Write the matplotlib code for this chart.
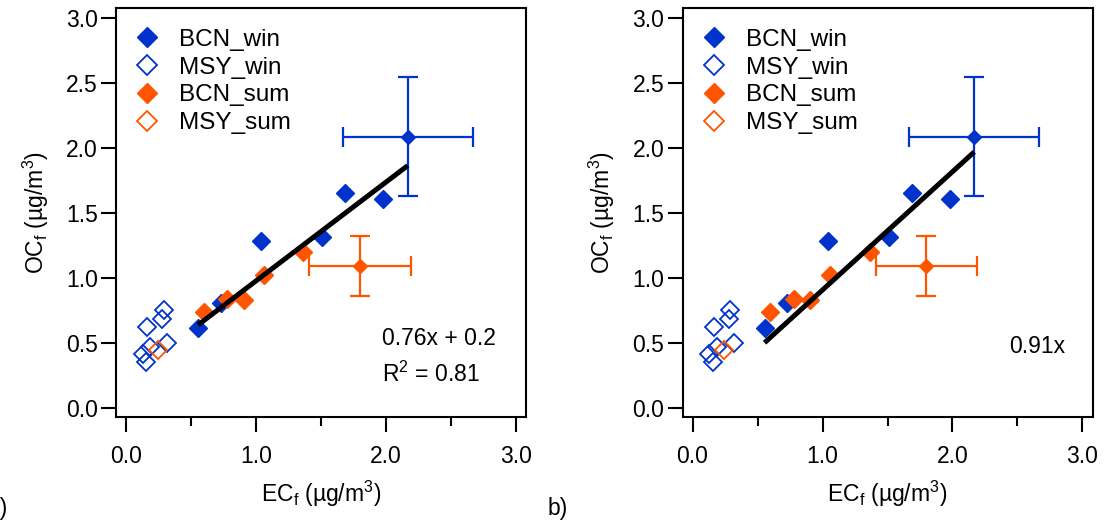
import numpy as np
import matplotlib
matplotlib.use('Agg')
import matplotlib.pyplot as plt
from matplotlib.ticker import MultipleLocator, FormatStrFormatter

plt.rcParams['font.family'] = ['Liberation Sans', 'DejaVu Sans']
plt.rcParams['mathtext.fontset'] = 'custom'
plt.rcParams['mathtext.rm'] = 'Liberation Sans'
plt.rcParams['mathtext.it'] = 'Liberation Sans:italic'
FS = 16.5

BLUE = '#0033cc'
ORANGE = '#ff5500'

# OC_f vs EC_f, individual samples (ug/m3)
bcn_win_ec = [0.554, 0.73, 1.04, 1.51, 1.685, 1.98]
bcn_win_oc = [0.62, 0.81, 1.287, 1.315, 1.654, 1.61]
msy_win_ec = [0.162, 0.29, 0.277, 0.316, 0.187, 0.13, 0.156]
msy_win_oc = [0.623, 0.756, 0.687, 0.50, 0.469, 0.418, 0.359]
bcn_sum_ec = [0.597, 0.777, 0.905, 1.058, 1.362]
bcn_sum_oc = [0.743, 0.843, 0.833, 1.022, 1.20]
msy_sum_ec = [0.245]
msy_sum_oc = [0.445]

# campaign means with standard deviations
mean_win = (2.167, 2.09)
sd_win = (0.50, 0.455)
mean_sum = (1.80, 1.095)
sd_sum = (0.39, 0.23)

# fits: a) OLS with intercept, b) forced through zero
fit_a = (0.76, 0.22)
r2_a = 0.81
fit_b = (0.91, 0.0)

fig = plt.figure(figsize=(11.06, 5.25), dpi=100)
W, H = 1106, 525
ax_a = fig.add_axes([116 / W, 1 - 417 / H, 410 / W, 408.7 / H])
ax_b = fig.add_axes([682.5 / W, 1 - 417 / H, 410 / W, 408.7 / H])


def draw_panel(ax, fit):
    ax.plot(bcn_win_ec, bcn_win_oc, 'D', ms=8.8, color=BLUE, mec=BLUE, label='BCN_win', zorder=3)
    ax.plot(msy_win_ec, msy_win_oc, 'D', ms=8.8, mfc='none', mec=BLUE, mew=1.3, label='MSY_win', zorder=3)
    ax.plot(bcn_sum_ec, bcn_sum_oc, 'D', ms=8.8, color=ORANGE, mec=ORANGE, label='BCN_sum', zorder=3)
    ax.plot(msy_sum_ec, msy_sum_oc, 'D', ms=8.8, mfc='none', mec=ORANGE, mew=1.3, label='MSY_sum', zorder=3)

    ax.errorbar(mean_win[0], mean_win[1], xerr=sd_win[0], yerr=sd_win[1], fmt='D', ms=7.5,
                color=BLUE, elinewidth=1.6, capsize=7, capthick=1.6, zorder=4)
    ax.errorbar(mean_sum[0], mean_sum[1], xerr=sd_sum[0], yerr=sd_sum[1], fmt='D', ms=7.5,
                color=ORANGE, elinewidth=1.6, capsize=7, capthick=1.6, zorder=4)

    # fit line over the Barcelona range
    bcn_x = bcn_win_ec + bcn_sum_ec + [mean_win[0], mean_sum[0]]
    xs = np.array([min(bcn_x), max(bcn_x)])
    ax.plot(xs, fit[0] * xs + fit[1], color='black', lw=3.6, solid_capstyle='butt', zorder=5)

    ax.set_xlim(-0.077, 3.077)
    ax.set_ylim(-0.067, 3.077)
    ax.xaxis.set_major_locator(MultipleLocator(1.0))
    ax.xaxis.set_minor_locator(MultipleLocator(0.5))
    ax.yaxis.set_major_locator(MultipleLocator(0.5))
    ax.xaxis.set_major_formatter(FormatStrFormatter('%.1f'))
    ax.yaxis.set_major_formatter(FormatStrFormatter('%.1f'))
    ax.tick_params(which='major', direction='out', length=11, width=1.5, labelsize=FS)
    ax.tick_params(axis='x', which='major', pad=9)
    ax.tick_params(axis='y', which='major', pad=2)
    ax.tick_params(which='minor', direction='out', length=6.5, width=1.5)
    for s in ax.spines.values():
        s.set_linewidth(1.5)

    ax.set_xlabel(r'EC$_\mathrm{f}$ (µg/m$^\mathrm{3}$)', fontsize=FS, labelpad=8)
    ax.set_ylabel(r'OC$_\mathrm{f}$ (µg/m$^\mathrm{3}$)', fontsize=FS, labelpad=11)

    ax.legend(loc='upper left', bbox_to_anchor=(0.048, 0.95), frameon=False, fontsize=17.5,
              numpoints=1, markerscale=1.15, handlelength=0.95, handletextpad=0.85,
              labelspacing=0.24, borderpad=0, borderaxespad=0)


draw_panel(ax_a, fit_a)
draw_panel(ax_b, fit_b)

ax_a.text(1.97, 0.54, f'{fit_a[0]:.2f}x + {fit_a[1]:.1f}', fontsize=FS, va='center')
ax_a.text(1.97, 0.26, f'R$^\\mathrm{{2}}$ = {r2_a:.2f}', fontsize=FS, va='center')
ax_b.text(2.436, 0.474, f'{fit_b[0]:.2f}x', fontsize=FS, va='center')

fig.text(-13 / W, 1 - 515 / H, 'a)', fontsize=FS)
fig.text(548 / W, 1 - 515 / H, 'b)', fontsize=FS)

fig.savefig('out.png', dpi=100)
